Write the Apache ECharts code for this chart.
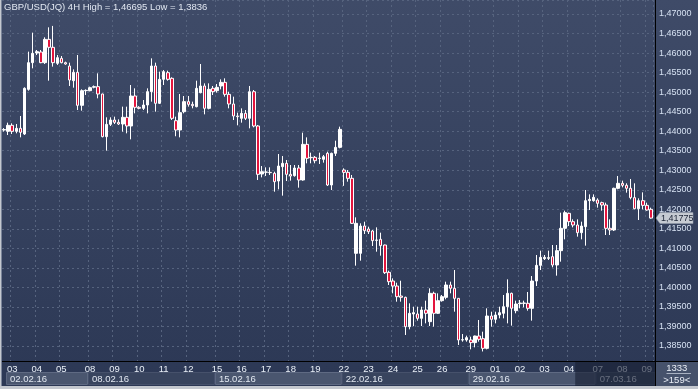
<!DOCTYPE html>
<html><head><meta charset="utf-8">
<script src="https://cdn.jsdelivr.net/npm/echarts@6/dist/echarts.min.js"></script>
<style>
html,body{margin:0;padding:0;background:#c4c8cf;width:698px;height:389px;overflow:hidden}
#c{position:absolute;left:1px;top:0;width:697px;height:386px;background:linear-gradient(to bottom,#3f4b68 0%,#2c3855 100%)}
</style></head><body><div id="c"></div>
<script>
const titleText = 'GBP/USD(JQ) 4H High = 1,46695 Low = 1,3836';
// trading days shown on the time axis and how many 4H candles each holds
const dayNames = ['02','03','04','05','08','09','10','11','12','15','16','17','18','19','22','23','24','25','26','29','01','02','03','04','07','08','09'];
const dayMonths = ['02','02','02','02','02','02','02','02','02','02','02','02','02','02','02','02','02','02','02','02','03','03','03','03','03','03','03'];
const candlesPerDay = [2,6,6,7,6,6,6,6,7,6,6,6,6,7,6,6,6,6,7,6,6,6,6,7,6,6,2];
const weekLabels = ['02.02.16','08.02.16','15.02.16','22.02.16','29.02.16','07.03.16'];
const daysPerWeek = [4,5,5,5,5,3];
const open = [
1.4403,1.43996,1.44150,1.43996,1.44073,1.43928,1.45071,1.45754,1.46002,1.46027,
1.45754,1.46351,1.46147,1.45737,1.45865,1.45754,1.45669,1.45293,1.45507,1.44662,
1.45037,1.45037,1.45125,1.45140,1.44952,1.43860,1.44175,1.44286,1.44227,1.44184,
1.44355,1.44133,1.44901,1.44611,1.44585,1.44670,1.45012,1.45669,1.44713,1.45327,
1.45498,1.45353,1.44269,1.44030,1.44499,1.44756,1.44687,1.44628,1.44986,1.45157,
1.44585,1.45097,1.45037,1.45157,1.45250,1.44943,1.44696,1.44389,1.44329,1.44457,
1.44329,1.45011,1.44133,1.42904,1.42950,1.42945,1.42921,1.42724,1.43091,1.43177,
1.42895,1.42861,1.43057,1.42750,1.43663,1.43330,1.43330,1.43300,1.43279,1.43433,
1.42622,1.43433,1.43586,1.43006,1.42946,1.42793,1.40873,1.40873,1.41572,1.41496,
1.41444,1.41205,1.41231,1.41086,1.40386,1.40164,1.40036,1.39780,1.39746,1.38995,
1.39320,1.39320,1.39208,1.39422,1.39123,1.39849,1.39337,1.39661,1.39746,1.40062,
1.39977,1.39720,1.38654,1.38654,1.38654,1.38586,1.38756,1.38688,1.38440,1.39268,
1.39183,1.39294,1.39337,1.39507,1.39849,1.39405,1.39584,1.39592,1.39593,1.39465,
1.40164,1.40565,1.40736,1.40745,1.40787,1.40574,1.40941,1.41513,1.41897,1.41683,
1.41598,1.41402,1.41555,1.42221,1.42221,1.42238,1.42170,1.42110,1.41513,1.41470,
1.42537,1.42665,1.42614,1.42537,1.42298,1.42016,1.42221,1.42101,1.41999];
const high = [
1.4408,1.44218,1.44201,1.44184,1.44389,1.45123,1.46036,1.46522,1.46078,1.46078,
1.46403,1.46659,1.46695,1.45950,1.45925,1.45780,1.45754,1.45583,1.45950,1.45071,
1.45071,1.45140,1.45170,1.45481,1.44960,1.44355,1.44355,1.44372,1.44303,1.44628,
1.44628,1.45182,1.45097,1.44640,1.44798,1.45097,1.45865,1.45754,1.45524,1.45566,
1.45549,1.45379,1.44372,1.44952,1.44901,1.44901,1.44756,1.45293,1.45720,1.45225,
1.45225,1.45157,1.45208,1.45327,1.45353,1.45011,1.44884,1.44474,1.44585,1.44542,
1.45157,1.45054,1.44159,1.43108,1.43074,1.43074,1.42963,1.43416,1.43364,1.43262,
1.43134,1.43134,1.43134,1.43962,1.43842,1.43450,1.43364,1.43450,1.43390,1.43475,
1.43450,1.43757,1.44116,1.43049,1.43006,1.42878,1.41794,1.41641,1.41683,1.41555,
1.41470,1.41538,1.41402,1.41095,1.40429,1.40232,1.40121,1.40172,1.39763,1.39593,
1.39507,1.39507,1.39507,1.39661,1.39977,1.39891,1.39849,1.39806,1.40147,1.40147,
1.40446,1.39728,1.38807,1.38765,1.38739,1.38765,1.39166,1.38867,1.39465,1.39379,
1.39379,1.39507,1.39806,1.40207,1.39866,1.39661,1.39678,1.39661,1.39883,1.40292,
1.40830,1.40941,1.40830,1.40941,1.41086,1.41086,1.41914,1.41965,1.41914,1.41743,
1.41743,1.41683,1.42494,1.42383,1.42383,1.42281,1.42195,1.42170,1.41743,1.42554,
1.42853,1.42733,1.42665,1.42776,1.42665,1.42281,1.42434,1.42170,1.42042];
const low = [
1.4399,1.43902,1.43928,1.43945,1.43842,1.43902,1.45037,1.45609,1.45950,1.45740,
1.45720,1.45293,1.45652,1.45696,1.45737,1.45700,1.45157,1.45114,1.44542,1.44525,
1.44926,1.45020,1.45097,1.44841,1.43842,1.43501,1.44133,1.44184,1.44158,1.43988,
1.43945,1.43791,1.44457,1.44560,1.44542,1.44457,1.44756,1.44500,1.44696,1.45182,
1.45293,1.44286,1.43870,1.43842,1.44457,1.44628,1.44585,1.44610,1.44969,1.44431,
1.44559,1.44926,1.44986,1.45071,1.44884,1.44585,1.44286,1.44150,1.44218,1.44286,
1.44073,1.44098,1.42750,1.42818,1.42852,1.42878,1.42451,1.42511,1.42349,1.42724,
1.42733,1.42835,1.42554,1.42733,1.43177,1.43177,1.43177,1.43160,1.43194,1.42596,
1.42494,1.43364,1.43561,1.42600,1.42707,1.41624,1.40557,1.40685,1.41368,1.41368,
1.41060,1.40915,1.40813,1.40344,1.40062,1.39849,1.39635,1.39635,1.38782,1.38927,
1.39012,1.39149,1.39012,1.39080,1.39012,1.38995,1.39320,1.39635,1.39695,1.39849,
1.39379,1.38526,1.38611,1.38611,1.38415,1.38466,1.38611,1.38360,1.38415,1.38995,
1.39080,1.39208,1.39208,1.39080,1.39021,1.39337,1.39465,1.39490,1.39405,1.39149,
1.40036,1.40446,1.40702,1.40702,1.40514,1.40301,1.40659,1.41231,1.41572,1.41538,
1.41299,1.41231,1.41069,1.41982,1.42195,1.42042,1.41965,1.41342,1.41342,1.41444,
1.42511,1.42562,1.42426,1.42255,1.41999,1.41726,1.41999,1.41965,1.41760];
const close = [
1.4404,1.44150,1.43996,1.44073,1.43970,1.45097,1.45754,1.45993,1.46036,1.45754,
1.46351,1.46147,1.45754,1.45882,1.45754,1.45720,1.45310,1.45507,1.44662,1.45037,
1.45045,1.45114,1.45140,1.44952,1.43860,1.44175,1.44286,1.44227,1.44184,1.44355,
1.44133,1.44901,1.44611,1.44585,1.44670,1.45012,1.45669,1.44713,1.45327,1.45524,
1.45327,1.44329,1.44030,1.44474,1.44756,1.44687,1.44653,1.45097,1.45157,1.44585,
1.45071,1.45012,1.45122,1.45250,1.44943,1.44696,1.44389,1.44372,1.44457,1.44329,
1.45011,1.44133,1.42895,1.42963,1.42955,1.42938,1.42707,1.43108,1.43177,1.42895,
1.42852,1.43057,1.42750,1.43663,1.43305,1.43320,1.43245,1.43310,1.43347,1.42622,
1.43433,1.43586,1.44047,1.42946,1.42793,1.41641,1.41641,1.41572,1.41453,1.41427,
1.41197,1.41214,1.41069,1.40378,1.40147,1.40036,1.39763,1.39746,1.38995,1.39337,
1.39354,1.39208,1.39422,1.39337,1.39849,1.39337,1.39661,1.39763,1.40062,1.39977,
1.39720,1.38654,1.38662,1.38714,1.38586,1.38756,1.38671,1.38440,1.39268,1.39183,
1.39294,1.39354,1.39507,1.39849,1.39465,1.39575,1.39601,1.39601,1.39465,1.40164,
1.40565,1.40770,1.40770,1.40762,1.40574,1.40941,1.41513,1.41914,1.41683,1.41598,
1.41402,1.41572,1.42221,1.42255,1.42306,1.42153,1.42110,1.41513,1.41470,1.42537,
1.42665,1.42614,1.42537,1.42298,1.42016,1.42221,1.42101,1.41982,1.41775];
const lastPrice = 1.41775;
const priceStep = 0.005;
const yMin = 1.381163, yMax = 1.473584;
const barsInfo = ['1333', '>159<'];
const shadedFromCandle = 140;

const FONT = 'Liberation Sans, Arial, sans-serif';
// build categories
const cats = [], dayStart = [], dayStartIdx = [];
candlesPerDay.forEach((n, d) => {
  dayStartIdx.push(cats.length);
  for (let k = 0; k < n; k++) { dayStart.push(k === 0); cats.push(dayMonths[d] + '-' + dayNames[d] + '-' + k); }
});
const weekStartIdx = []; let dcount = 0;
daysPerWeek.forEach(n => { weekStartIdx.push(dayStartIdx[dcount]); dcount += n; });
const showDay = (i) => dayStart[i] && i > 0;
const fmtPrice = v => v.toFixed(5).replace('.', ',');

const chart = echarts.init(document.getElementById('c'), null, {renderer: 'canvas'});
const H = 386, W = 697;
chart.setOption({
  animation: false,
  backgroundColor: 'transparent',
  title: {text: titleText, left: 3, top: 2, padding: 0,
    textStyle: {color: '#e1e7f1', fontSize: 9.5, fontWeight: 'normal', fontFamily: FONT}},
  grid: {left: 1, top: 0, width: 651, height: 361},
  xAxis: {type: 'category', data: cats, boundaryGap: true,
    axisLine: {show: false}, axisTick: {show: false},
    axisLabel: {interval: (i) => showDay(i), formatter: v => v.split('-')[1],
      color: '#eaf0f8', fontSize: 9.5, margin: 3, fontFamily: FONT},
    splitLine: {show: true, interval: (i) => showDay(i), lineStyle: {color: '#56637e', width: 1, type: [2, 3]}}},
  yAxis: {type: 'value', position: 'right', offset: 2.5, min: yMin, max: yMax,
    splitNumber: 18, minInterval: priceStep, maxInterval: priceStep,
    axisLine: {show: true, lineStyle: {color: '#000', width: 1}},
    axisTick: {show: false},
    axisLabel: {color: '#d6e1f2', fontSize: 9, margin: 3.5, fontFamily: FONT,
      formatter: v => Math.abs(v / priceStep - Math.round(v / priceStep)) < 1e-6 ? fmtPrice(v) : ''},
    splitLine: {show: true, lineStyle: {color: '#56637e', width: 1, type: [2, 3]}}},
  series: [{type: 'candlestick', barWidth: 3,
    data: open.map((o, i) => [o, close[i], low[i], high[i]]),
    itemStyle: {color: '#ffffff', color0: '#e3153d', borderColor: '#ffffff', borderColor0: '#ffffff', borderWidth: 1}}]
});

// decorations computed from the library's scales
const cx = i => chart.convertToPixel({xAxisIndex: 0}, i);
const band = cx(1) - cx(0);
const bnd = i => cx(i) - band / 2;
const gridBottom = chart.convertToPixel({yAxisIndex: 0}, yMin);
const axisX = bnd(cats.length) + 2.5;
const rowTop = gridBottom + 11, rowBot = gridBottom + 23;
const els = [];
weekStartIdx.forEach((s, w) => {
  const e = w + 1 < weekStartIdx.length ? weekStartIdx[w + 1] : cats.length;
  let x0 = bnd(s); if (w === 0) x0 = cx(0) + 2;
  const x1 = w + 1 < weekStartIdx.length ? bnd(e) : axisX;
  const light = w % 2 === 0;
  els.push({type: 'rect', z: 10, shape: {x: x0 + 0.5, y: rowTop + 0.5, width: x1 - x0 - 1, height: rowBot - rowTop},
    style: {fill: light ? '#4a566f' : '#38445e', stroke: light ? '#5f6a83' : '#46516b', lineWidth: 1}});
  els.push({type: 'text', z: 11, style: {text: weekLabels[w], x: x0 + 4, y: (rowTop + rowBot) / 2 + 1,
    verticalAlign: 'middle', fill: '#e2e8f1', font: '9.5px ' + FONT}});
});
// shaded tail of the time axis
els.push({type: 'rect', z: 20, shape: {x: bnd(shadedFromCandle), y: gridBottom + 1, width: axisX - bnd(shadedFromCandle), height: H - gridBottom - 1},
  style: {fill: 'rgba(24,32,52,0.62)'}});
// right bottom info panel
els.push({type: 'rect', z: 10, shape: {x: axisX, y: gridBottom, width: W - axisX, height: H - gridBottom}, style: {fill: '#46526b'}});
els.push({type: 'text', z: 11, style: {text: barsInfo[0], x: (axisX + W) / 2, y: gridBottom + 7, align: 'center', verticalAlign: 'middle', fill: '#e8edf5', font: '9.5px ' + FONT}});
els.push({type: 'line', z: 11, shape: {x1: axisX + 11, y1: gridBottom + 12.5, x2: W - 7, y2: gridBottom + 12.5}, style: {stroke: '#a9b2c2', lineWidth: 1}});
els.push({type: 'text', z: 11, style: {text: barsInfo[1], x: (axisX + W) / 2, y: gridBottom + 19.5, align: 'center', verticalAlign: 'middle', fill: '#e8edf5', font: '9.5px ' + FONT}});
// frame lines
els.push({type: 'line', z: 30, shape: {x1: 0, y1: Math.round(gridBottom) + 0.5, x2: W, y2: Math.round(gridBottom) + 0.5}, style: {stroke: '#000', lineWidth: 1}});
els.push({type: 'line', z: 30, shape: {x1: Math.floor(axisX) + 0.5, y1: 0, x2: Math.floor(axisX) + 0.5, y2: H}, style: {stroke: '#000', lineWidth: 1}});
els.push({type: 'line', z: 30, shape: {x1: 0.5, y1: 0, x2: 0.5, y2: H}, style: {stroke: '#7a8499', lineWidth: 1}});
// last price tag
const py = chart.convertToPixel({yAxisIndex: 0}, lastPrice);
const tx = Math.floor(axisX) + 1;
els.push({type: 'polygon', z: 40, shape: {points: [[tx, py], [tx + 4, py - 5.5], [tx + 37, py - 5.5], [tx + 37, py + 5.5], [tx + 4, py + 5.5]]},
  style: {fill: '#c6cbd3', stroke: '#9aa2b0', lineWidth: 0.5}});
els.push({type: 'text', z: 41, style: {text: fmtPrice(lastPrice), x: tx + 5, y: py + 0.5, verticalAlign: 'middle', fill: '#1b2436', font: '9px ' + FONT}});
chart.setOption({graphic: {elements: els}});
</script></body></html>
